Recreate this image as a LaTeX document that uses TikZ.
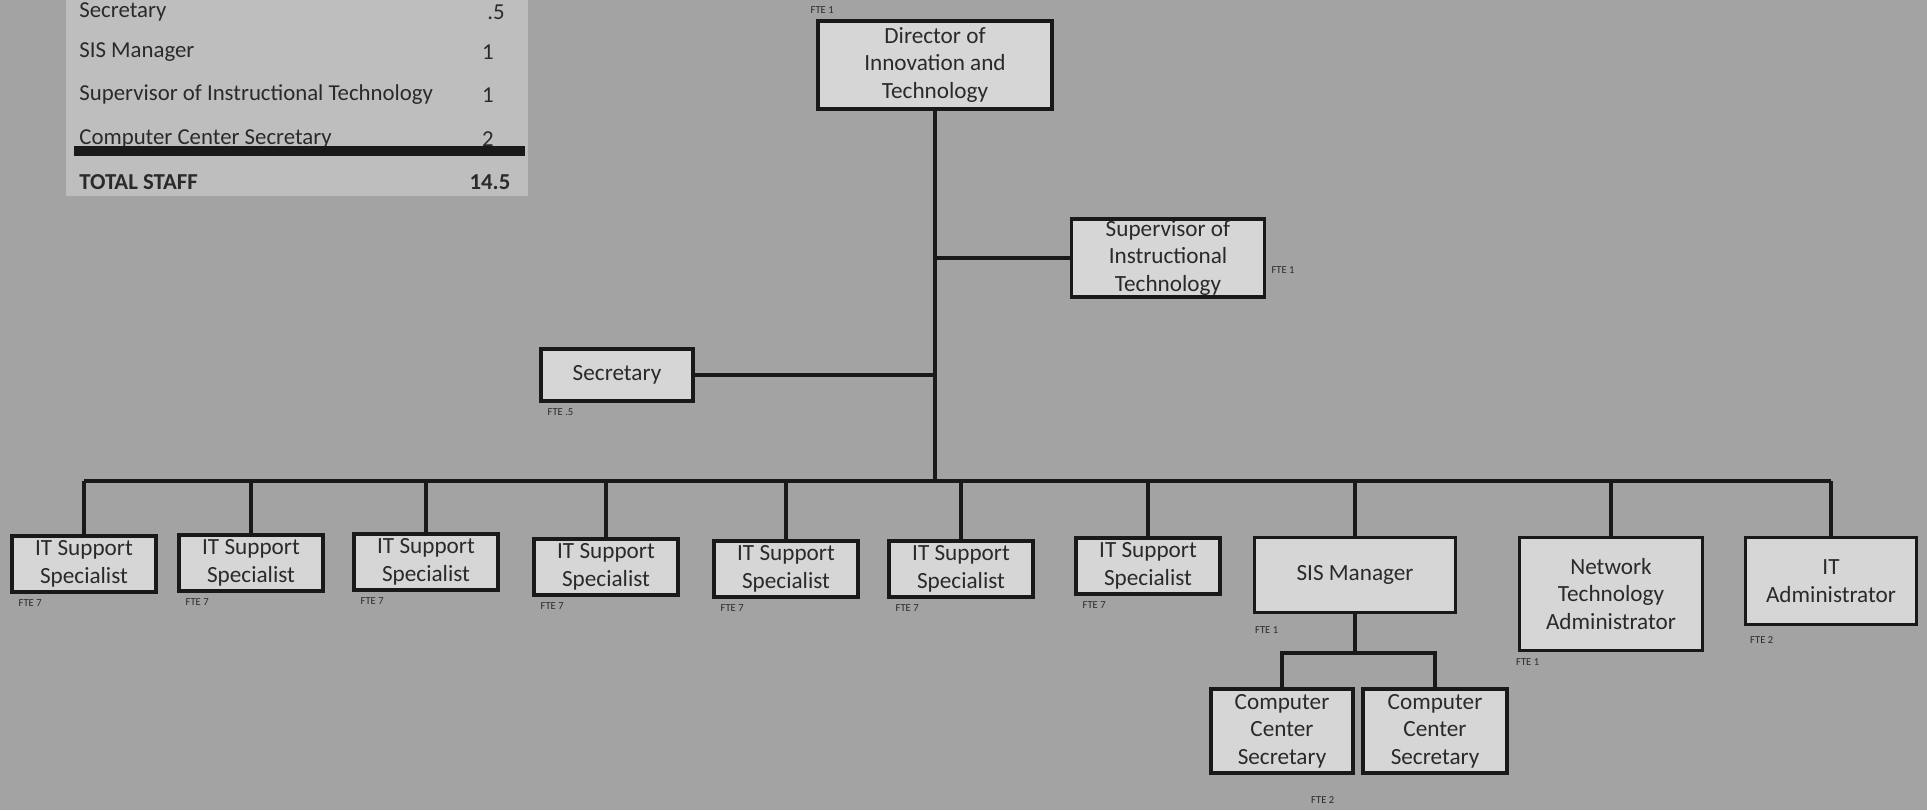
\documentclass[tikz,border=0pt]{standalone}
\usepackage{fontspec}
\setmainfont{Carlito}
\usetikzlibrary{positioning}
\definecolor{paper}{HTML}{A3A3A3}
\definecolor{sheet}{HTML}{BEBEBE}
\definecolor{boxfill}{HTML}{D6D6D6}
\definecolor{ink}{HTML}{2A2A2A}

\begin{document}
\begin{tikzpicture}[
  x=0.5pt, y=-0.5pt,
  role/.style={draw=black!90, line width=1.7pt, fill=boxfill, text=ink, align=center,
               font=\fontsize{11.6}{13.8}\selectfont, inner sep=0pt},
  itbox/.style={role, minimum width=72pt, minimum height=28pt},
  fte/.style={text=ink, font=\fontsize{5.3}{6}\selectfont, inner sep=0pt},
  row/.style={text=ink, font=\fontsize{11.4}{13}\selectfont, inner sep=0pt, anchor=west},
  num/.style={text=ink, font=\fontsize{11.4}{13}\selectfont, inner sep=0pt},
  link/.style={draw=black!90, line width=1.8pt}
]
  \fill[paper] (0,0) rectangle (1927,810);
  \useasboundingbox (0,0) rectangle (1927,810);

  % staffing table
  \fill[sheet] (66,0) rectangle (528,196);
  \node[row] (t-sec) at (79,12)  {Secretary};
  \node[row] (t-sis) at (79,52)  {SIS Manager};
  \node[row] (t-sup) at (79,95)  {Supervisor of Instructional Technology};
  \node[row] (t-ccs) at (79,139) {Computer Center Secretary};
  \node[row] (t-tot) at (79,182) {\bfseries TOTAL STAFF};
  \node[num] (n-sec) at (496,12)  {.5};
  \node[num] (n-sis) at (488,52)  {1};
  \node[num] (n-sup) at (488,95)  {1};
  \node[num] (n-ccs) at (488,139) {2};
  \node[num] (n-tot) at (490,182) {\bfseries 14.5};
  \fill[black!90] (74,146) rectangle (525,156);

  % boxes
  \node[role, minimum width=117pt, minimum height=44pt] (dir) at (935,65)
    {Director of\\Innovation and\\Technology};
  \node[role, minimum width=96.5pt, minimum height=39pt] (sup) at (1168,258)
    {Supervisor of\\Instructional\\Technology};
  \node[role, minimum width=76pt, minimum height=26pt] (sec) at (617,375) {Secretary};

  \foreach \n/\x/\y in {1/84/564, 2/251/563, 3/426/562, 4/606/567,
                        5/786/569, 6/961/569, 7/1148/566} {
    \node[itbox] (it\n) at (\x,\y) {IT Support\\Specialist};
    \node[fte, below right=3pt and 4pt of it\n.south west] (fte-it\n) {FTE 7};
  }

  \node[role, minimum width=100.5pt, minimum height=37.5pt] (sis) at (1355,575) {SIS Manager};
  \node[role, minimum width=91.5pt, minimum height=56.5pt] (net) at (1611,594)
    {Network\\Technology\\Administrator};
  \node[role, minimum width=85.5pt, minimum height=43.5pt] (adm) at (1831,581)
    {IT\\Administrator};
  \node[role, minimum width=71pt, minimum height=42pt] (ccs1) at (1282,731)
    {Computer\\Center\\Secretary};
  \node[role, minimum width=72pt, minimum height=42pt] (ccs2) at (1435,731)
    {Computer\\Center\\Secretary};

  % FTE counts
  \node[fte, above right=2.5pt and -3pt of dir.north west] (fte-dir) {FTE 1};
  \node[fte, right=2.5pt of sup.east, yshift=-6pt] (fte-sup) {FTE 1};
  \node[fte, below right=3pt and 4pt of sec.south west] (fte-sec) {FTE .5};
  \node[fte, below right=6pt and 1pt of sis.south west] (fte-sis) {FTE 1};
  \node[fte, below right=3pt and -1pt of net.south west] (fte-net) {FTE 1};
  \node[fte, below right=5pt and 3pt of adm.south west] (fte-adm) {FTE 2};
  \node[fte, below=11pt of ccs1.south east, xshift=-16pt] (fte-ccs) {FTE 2};

  % connectors
  \coordinate (bus) at (0,481);
  \coordinate (ccsbar) at (0,653);
  \draw[link] (dir.south) -- (dir.south |- bus);
  \draw[link] (sup.west) -- (sup.west -| dir.south);
  \draw[link] (sec.east) -- (sec.east -| dir.south);
  \draw[link] (it1.north |- bus) -- (adm.north |- bus);
  \foreach \n in {it1,it2,it3,it4,it5,it6,it7,sis,net,adm}
    \draw[link] (\n.north) -- (\n.north |- bus);
  \draw[link] (sis.south) -- (sis.south |- ccsbar);
  \draw[link] (ccs1.north) |- (ccsbar -| ccs2.north) -- (ccs2.north);
\end{tikzpicture}
\end{document}
